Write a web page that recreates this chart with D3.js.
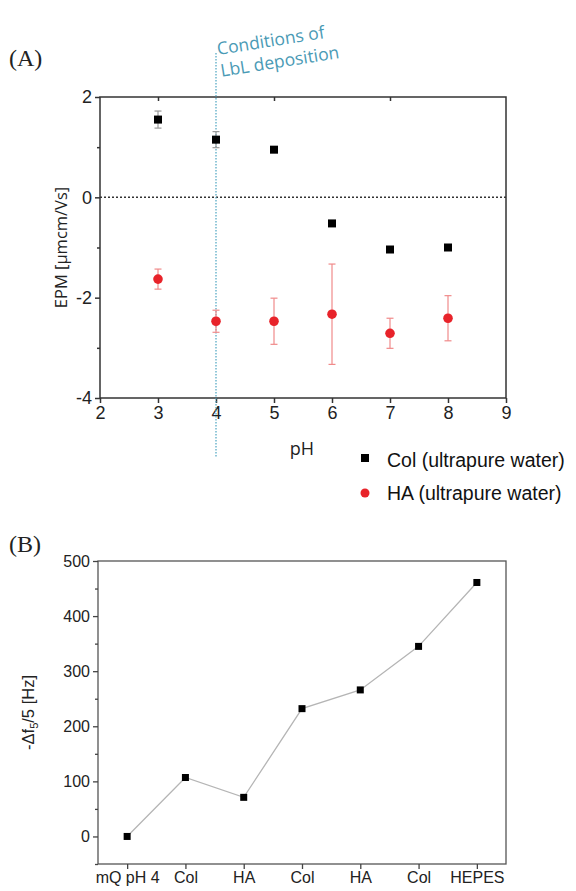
<!DOCTYPE html>
<html>
<head>
<meta charset="utf-8">
<script src="https://cdn.jsdelivr.net/npm/d3@7"></script>
<style>
  body { margin: 0; background: #fff; }
  text { font-family: "Liberation Sans", Arial, sans-serif; }
</style>
</head>
<body>
<div id="chart"></div>
<script>
// panel A data: electrophoretic mobility vs pH
const phValues = [3, 4, 5, 6, 7, 8];
const colEpm = [1.55, 1.15, 0.95, -0.52, -1.04, -1.0];
const colErr = [0.17, 0.16, 0.05, 0.03, 0.03, 0.03];
const haEpm = [-1.63, -2.47, -2.47, -2.33, -2.71, -2.41];
const haErr = [0.2, 0.22, 0.46, 1.0, 0.3, 0.45];
const lblPh = 4;

// panel B data: frequency shift per layer
const layerLabels = ["mQ pH 4", "Col", "HA", "Col", "HA", "Col", "HEPES"];
const freqShift = [0, 107, 71, 232, 266, 345, 461];

const W = 576, H = 891;
const axisColor = "#333";

const svg = d3.select("#chart").append("svg").attr("width", W).attr("height", H);

// ---------- panel A ----------
const xA = d3.scaleLinear().domain([2, 9]).range([100, 506]);
const yA = d3.scaleLinear().domain([-4, 2]).range([398, 97]);

svg.append("text").attr("x", 9).attr("y", 66)
    .style("font-family", "'Liberation Serif', 'Times New Roman', serif")
    .style("font-size", "24px").attr("fill", "#222").text("(A)");

const gA = svg.append("g");

// zero line
gA.append("line")
    .attr("x1", xA(2)).attr("x2", xA(9)).attr("y1", yA(0)).attr("y2", yA(0))
    .attr("stroke", "#111").attr("stroke-width", 2).attr("stroke-dasharray", "2,2");

// box
gA.append("rect")
    .attr("x", xA(2)).attr("y", yA(2)).attr("width", xA(9) - xA(2)).attr("height", yA(-4) - yA(2))
    .attr("fill", "none").attr("stroke", axisColor).attr("stroke-width", 1.5);

const axBottomA = gA.append("g").attr("transform", `translate(0,${yA(-4)})`)
    .call(d3.axisBottom(xA).tickValues(d3.range(2, 10)).tickSize(5).tickPadding(3).tickFormat(d3.format("d")));
const axLeftA = gA.append("g").attr("transform", `translate(${xA(2)},0)`)
    .call(d3.axisLeft(yA).tickValues([-4, -2, 0, 2]).tickSize(5).tickPadding(3).tickFormat(d => d));
// minor y ticks
gA.append("g").attr("transform", `translate(${xA(2)},0)`)
    .call(d3.axisLeft(yA).tickValues([-3, -1, 1]).tickSize(3).tickFormat(""));
// mirrored top ticks inside
gA.append("g").attr("transform", `translate(0,${yA(2)})`)
    .call(d3.axisBottom(xA).tickValues([3, 5, 7]).tickSize(4).tickFormat(""));

[axBottomA, axLeftA].forEach(a => {
    a.selectAll("text").style("font-size", "18px").attr("fill", "#222");
});
gA.selectAll("g .domain").remove();
gA.selectAll("g line").attr("stroke", axisColor).attr("stroke-width", 1.5);

// LbL condition marker
gA.append("line")
    .attr("x1", xA(lblPh)).attr("x2", xA(lblPh)).attr("y1", 53).attr("y2", 457)
    .attr("stroke", "#4aa3c0").attr("stroke-width", 1.2).attr("stroke-dasharray", "1.5,1.5");

const note = gA.append("text")
    .attr("transform", `translate(${xA(lblPh) + 2},55) rotate(-9)`)
    .style("font-family", "'Open Sans', sans-serif").style("font-size", "17.5px")
    .attr("fill", "#4a9ab5");
note.append("tspan").attr("x", 0).attr("y", 0).text("Conditions of");
note.append("tspan").attr("x", 0).attr("y", 22).text("LbL deposition");

// error bars
const drawErr = (vals, errs, color) => {
    phValues.forEach((p, i) => {
        const x = xA(p), y0 = yA(vals[i] - errs[i]), y1 = yA(vals[i] + errs[i]);
        gA.append("line").attr("x1", x).attr("x2", x).attr("y1", y0).attr("y2", y1)
            .attr("stroke", color).attr("stroke-width", 1.2);
        [y0, y1].forEach(y => gA.append("line").attr("x1", x - 3.5).attr("x2", x + 3.5)
            .attr("y1", y).attr("y2", y).attr("stroke", color).attr("stroke-width", 1.2));
    });
};
drawErr(colEpm, colErr, "#999");
drawErr(haEpm, haErr, "#f08a8a");

gA.selectAll("rect.col").data(phValues).join("rect").attr("class", "col")
    .attr("x", d => xA(d) - 4).attr("y", (d, i) => yA(colEpm[i]) - 4)
    .attr("width", 8).attr("height", 8).attr("fill", "#000");
gA.selectAll("circle.ha").data(phValues).join("circle").attr("class", "ha")
    .attr("cx", d => xA(d)).attr("cy", (d, i) => yA(haEpm[i]))
    .attr("r", 4.8).attr("fill", "#e8232a");

// axis titles
gA.append("text").attr("transform", `translate(67,${(yA(2) + yA(-4)) / 2}) rotate(-90)`)
    .attr("text-anchor", "middle").style("font-family", "'Open Sans', sans-serif")
    .style("font-size", "16.5px").attr("fill", "#222").text("EPM [µmcm/Vs]");
gA.append("text").attr("x", 302).attr("y", 455).attr("text-anchor", "middle")
    .style("font-family", "'Open Sans', sans-serif").style("font-size", "18px")
    .attr("fill", "#222").text("pH");

// legend
const legend = gA.append("g").style("font-family", "'Open Sans', sans-serif").style("font-size", "19.5px");
legend.append("rect").attr("x", 361).attr("y", 454).attr("width", 8).attr("height", 8).attr("fill", "#000");
legend.append("text").attr("x", 387).attr("y", 467).attr("fill", "#111").text("Col (ultrapure water)");
legend.append("circle").attr("cx", 365).attr("cy", 493).attr("r", 4.5).attr("fill", "#e8232a");
legend.append("text").attr("x", 387).attr("y", 500).attr("fill", "#111").text("HA (ultrapure water)");

// ---------- panel B ----------
svg.append("text").attr("x", 9).attr("y", 552)
    .style("font-family", "'Liberation Serif', 'Times New Roman', serif")
    .style("font-size", "24px").attr("fill", "#222").text("(B)");

const xB = d3.scaleLinear().domain([-0.5, 6.5]).range([98, 506]);
const yB = d3.scaleLinear().domain([-50, 500]).range([864, 561]);
const gB = svg.append("g");

gB.append("rect")
    .attr("x", xB(-0.5)).attr("y", yB(500)).attr("width", xB(6.5) - xB(-0.5)).attr("height", yB(-50) - yB(500))
    .attr("fill", "none").attr("stroke", "#555").attr("stroke-width", 1.3);

const axBottomB = gB.append("g").attr("transform", `translate(0,${yB(-50)})`)
    .call(d3.axisBottom(xB).tickValues(d3.range(layerLabels.length)).tickSize(5).tickPadding(3)
        .tickFormat(i => layerLabels[i]));
const axLeftB = gB.append("g").attr("transform", `translate(${xB(-0.5)},0)`)
    .call(d3.axisLeft(yB).tickValues([0, 100, 200, 300, 400, 500]).tickSize(5).tickPadding(3));
gB.append("g").attr("transform", `translate(${xB(-0.5)},0)`)
    .call(d3.axisLeft(yB).tickValues([-50, 50, 150, 250, 350, 450]).tickSize(3).tickFormat(""));

gB.selectAll("g .domain").remove();
gB.selectAll("g line").attr("stroke", "#444").attr("stroke-width", 1.3);
[axBottomB, axLeftB].forEach(a => a.selectAll("text").style("font-size", "16px").attr("fill", "#222"));

const lineB = d3.line().x((d, i) => xB(i)).y(d => yB(d));
gB.append("path").datum(freqShift).attr("d", lineB)
    .attr("fill", "none").attr("stroke", "#b5b5b5").attr("stroke-width", 1.3);
gB.selectAll("rect.pt").data(freqShift).join("rect").attr("class", "pt")
    .attr("x", (d, i) => xB(i) - 3.5).attr("y", d => yB(d) - 3.5)
    .attr("width", 7).attr("height", 7).attr("fill", "#000");

const yt = gB.append("text").attr("transform", `translate(34,${yB(225)}) rotate(-90)`)
    .attr("text-anchor", "middle").style("font-size", "16.5px").attr("fill", "#222");
yt.append("tspan").text("-Δf");
yt.append("tspan").attr("dy", 4).style("font-size", "11px").text("5");
yt.append("tspan").attr("dy", -4).text("/5 [Hz]");
</script>
</body>
</html>
